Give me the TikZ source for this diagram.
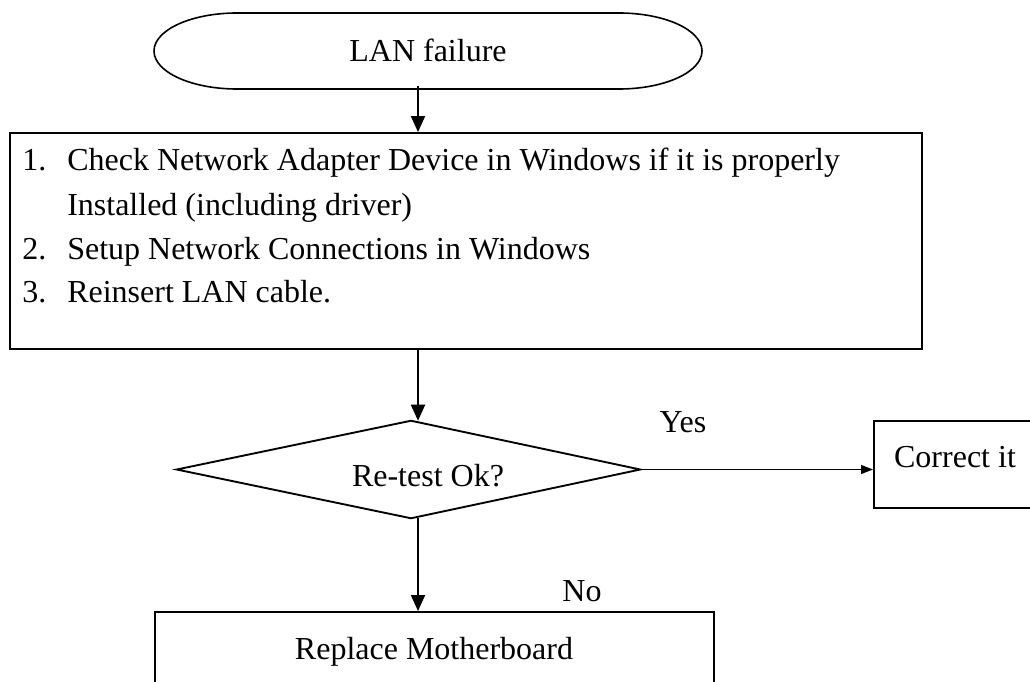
\documentclass[tikz,border=0pt]{standalone}
\usepackage{fontspec}
\setmainfont{Liberation Serif}
\usetikzlibrary{arrows.meta}
\newlength\pxu
\setlength\pxu{0.75pt}
\begin{document}
\begin{tikzpicture}[x=0.75pt,y=0.75pt,
  every node/.style={font=\fontsize{24}{29}\selectfont},
  txt/.style={inner sep=0pt, anchor=base},
  ltxt/.style={inner sep=0pt, anchor=base west},
  frame/.style={draw=black, line width=1.4pt, rectangle, inner sep=0pt},
  ghost/.style={rectangle, inner sep=0pt},
  arr/.style={line width=1.4pt, -{Triangle[length=12pt,width=10.5pt]}},
  arrs/.style={line width=1.4pt, -{Triangle[length=9pt,width=6.5pt]}}]
\useasboundingbox (0,0) rectangle (1030,-681);
\clip (0,0) rectangle (1030,-681);
\fill[white] (0,0) rectangle (1030,-681);
% terminator
\node[ghost, minimum width=548\pxu, minimum height=76\pxu] (start) at (428,-51) {};
\draw[line width=1.2pt] (237,-13) -- (619,-13)
  arc[start angle=90,end angle=-90,x radius=83,y radius=38]
  -- (237,-89)
  arc[start angle=270,end angle=90,x radius=83,y radius=38] -- cycle;
\node[txt] (starttxt) at (428,-62) {LAN failure};
% spine
\coordinate (spine) at (418,0);
% big box
\node[frame, minimum width=912\pxu, minimum height=216\pxu] (box) at (466,-241) {};
\node[ltxt] (n1) at (22,-171) {1.};
\node[ltxt] (l1) at (67,-171) {Check Network Adapter Device in Windows if it is properly};
\node[ltxt] (l1b) at (67,-215) {Installed (including driver)};
\node[ltxt] (n2) at (22,-259) {2.};
\node[ltxt] (l2) at (67,-259) {Setup Network Connections in Windows};
\node[ltxt] (n3) at (22,-302) {3.};
\node[ltxt] (l3) at (67,-302) {Reinsert LAN cable.};
% decision
\node[ghost, minimum width=463\pxu, minimum height=97\pxu] (dec) at (408.5,-469.5) {};
\draw[line width=1.4pt] (dec.west) -- ([xshift=2.5\pxu]dec.north) -- (dec.east) -- ([xshift=2.5\pxu]dec.south) -- cycle;
\node[txt] (dectxt) at (428,-486) {Re-test Ok?};
% correct it
\node[frame, minimum width=180\pxu, minimum height=87\pxu] (corr) at (964,-464.5) {};
\node[txt] (corrtxt) at (955,-467) {Correct it};
% replace
\node[frame, minimum width=559\pxu, minimum height=120\pxu] (repl) at (434.5,-672) {};
\node[txt] (repltxt) at (434,-659) {Replace Motherboard};
% labels
\node[txt] (yes) at (683,-432) {Yes};
\node[txt] (no) at (582,-601) {No};
% connectors
\draw[arr] ([yshift=3\pxu]spine |- start.south) -- (spine |- box.north);
\draw[arr] (spine |- box.south) -- (spine |- dec.north);
\draw[arrs] (dec.east) -- (corr.west |- dec.east);
\draw[arr] (spine |- dec.south) -- (spine |- repl.north);
\end{tikzpicture}
\end{document}
